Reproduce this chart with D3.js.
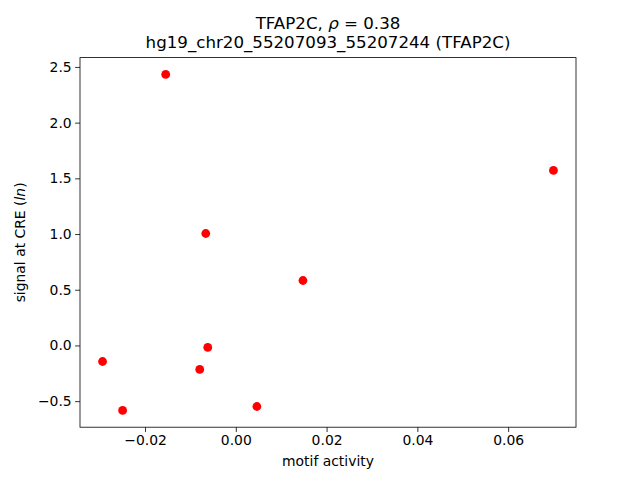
<!DOCTYPE html>
<html>
<head>
<meta charset="utf-8">
<script src="https://cdn.jsdelivr.net/npm/d3@7"></script>
<style>
  body { margin: 0; background: #fff; }
  text { font-family: "DejaVu Sans", sans-serif; fill: #000; }
</style>
</head>
<body>
<div id="chart"></div>
<script>
// motif activity vs signal at CRE
const motifActivity = [-0.01545, 0.06998, -0.00662, 0.01479, -0.00618, -0.02936, -0.00795, -0.02494, 0.00464];
const signalCRE     = [2.433, 1.571, 1.005, 0.583, -0.018, -0.144, -0.215, -0.583, -0.548];
const xTicks = [-0.02, 0.00, 0.02, 0.04, 0.06];
const yTicks = [-0.5, 0.0, 0.5, 1.0, 1.5, 2.0, 2.5];

const width = 640, height = 480;
const margin = { left: 80, right: 64, top: 57.6, bottom: 52.8 };

const svg = d3.select("#chart").append("svg")
    .attr("width", width)
    .attr("height", height);

// matplotlib style: 5% padding around data
function padded(vals) {
    const ext = d3.extent(vals), span = ext[1] - ext[0];
    return [ext[0] - span * 0.05, ext[1] + span * 0.05];
}

const x = d3.scaleLinear()
    .domain(padded(motifActivity))
    .range([margin.left, width - margin.right]);

const y = d3.scaleLinear()
    .domain(padded(signalCRE))
    .range([height - margin.bottom, margin.top]);

const fmtX = d3.format(".2f"), fmtY = d3.format(".1f");

const xAxis = svg.append("g")
    .attr("transform", "translate(0," + (height - margin.bottom) + ")")
    .call(d3.axisBottom(x).tickValues(xTicks).tickFormat(fmtX).tickSizeOuter(0).tickSize(4.86).tickPadding(3.5));

const yAxis = svg.append("g")
    .attr("transform", "translate(" + margin.left + ",0)")
    .call(d3.axisLeft(y).tickValues(yTicks).tickFormat(fmtY).tickSizeOuter(0).tickSize(4.86).tickPadding(3.5));

[xAxis, yAxis].forEach(function(a) {
    a.select(".domain").remove();
    a.selectAll("line").attr("stroke", "#000").attr("stroke-width", 0.8);
    a.selectAll("text").style("font-family", "DejaVu Sans").style("font-size", "13.9px").attr("fill", "#000");
});

// frame
svg.append("rect")
    .attr("x", margin.left)
    .attr("y", margin.top)
    .attr("width", width - margin.left - margin.right)
    .attr("height", height - margin.top - margin.bottom)
    .attr("fill", "none")
    .attr("stroke", "#000")
    .attr("stroke-width", 0.8);

// points
svg.append("g").selectAll("circle")
    .data(motifActivity.map(function(d, i) { return [d, signalCRE[i]]; }))
    .enter().append("circle")
        .attr("cx", function(d) { return x(d[0]); })
        .attr("cy", function(d) { return y(d[1]); })
        .attr("r", 4.4)
        .attr("fill", "#ff0000");

// title line 1: pieces laid out side by side, centred as a whole
const pieces = [
    { text: "TFAP2C, ", italic: false },
    { text: "ρ", italic: true },
    { text: " = 0.38", italic: false }
];
const parts = pieces.map(function(p) {
    return svg.append("text")
        .attr("y", 28.5)
        .style("font-size", "16.67px")
        .style("font-style", p.italic ? "italic" : "normal")
        .style("white-space", "pre")
        .attr("xml:space", "preserve")
        .text(p.text);
});
const widths = parts.map(function(t) { return t.node().getComputedTextLength(); });
let cursor = 328 - d3.sum(widths) / 2;
parts.forEach(function(t, i) { t.attr("x", cursor); cursor += widths[i]; });

svg.append("text")
    .attr("x", 328)
    .attr("y", 48)
    .attr("text-anchor", "middle")
    .style("font-size", "16.67px")
    .text("hg19_chr20_55207093_55207244 (TFAP2C)");

// axis labels
svg.append("text")
    .attr("x", 328)
    .attr("y", 466)
    .attr("text-anchor", "middle")
    .style("font-size", "13.9px")
    .text("motif activity");

const yl = svg.append("text")
    .attr("transform", "translate(25," + ((margin.top + height - margin.bottom) / 2) + ")rotate(-90)")
    .attr("text-anchor", "middle")
    .style("font-size", "13.9px");
yl.append("tspan").text("signal at CRE (");
yl.append("tspan").style("font-style", "italic").text("ln");
yl.append("tspan").text(")");
</script>
</body>
</html>
